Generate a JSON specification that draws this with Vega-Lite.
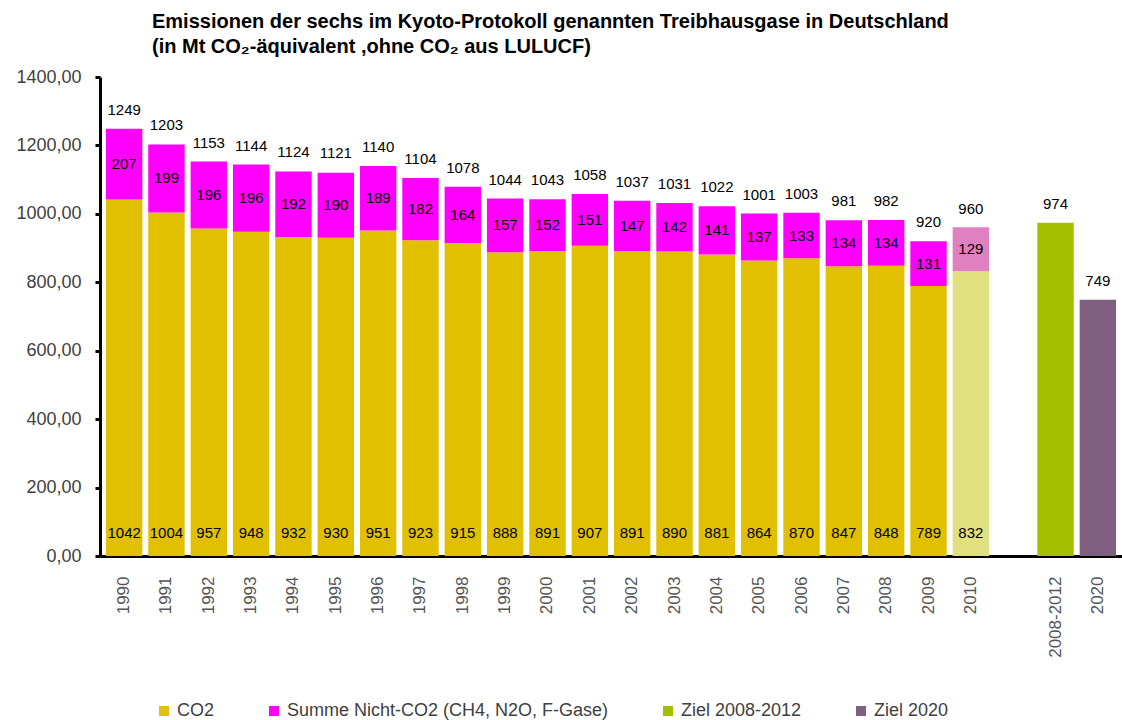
{
  "$schema": "https://vega.github.io/schema/vega-lite/v6.json",
  "width": 1022,
  "height": 479,
  "autosize": {"type": "none"},
  "padding": {"left": 100, "top": 77, "right": 0, "bottom": 164},
  "background": "white",
  "config": {"view": {"stroke": null}, "font": "Liberation Sans"},
  "title": {
    "text": ["Emissionen der sechs im Kyoto-Protokoll genannten Treibhausgase in Deutschland", "(in Mt CO₂-äquivalent ,ohne CO₂ aus LULUCF)"],
    "anchor": "start",
    "frame": "group",
    "dx": 52,
    "offset": 11,
    "fontSize": 20,
    "fontWeight": "bold",
    "color": "black",
    "lineHeight": 25
  },
  "datasets": {
    "segmente": [
      {"jahr": "1990", "gas": "CO2", "wert": 1042}, {"jahr": "1990", "gas": "Summe Nicht-CO2 (CH4, N2O, F-Gase)", "wert": 207},
      {"jahr": "1991", "gas": "CO2", "wert": 1004}, {"jahr": "1991", "gas": "Summe Nicht-CO2 (CH4, N2O, F-Gase)", "wert": 199},
      {"jahr": "1992", "gas": "CO2", "wert": 957}, {"jahr": "1992", "gas": "Summe Nicht-CO2 (CH4, N2O, F-Gase)", "wert": 196},
      {"jahr": "1993", "gas": "CO2", "wert": 948}, {"jahr": "1993", "gas": "Summe Nicht-CO2 (CH4, N2O, F-Gase)", "wert": 196},
      {"jahr": "1994", "gas": "CO2", "wert": 932}, {"jahr": "1994", "gas": "Summe Nicht-CO2 (CH4, N2O, F-Gase)", "wert": 192},
      {"jahr": "1995", "gas": "CO2", "wert": 930}, {"jahr": "1995", "gas": "Summe Nicht-CO2 (CH4, N2O, F-Gase)", "wert": 190},
      {"jahr": "1996", "gas": "CO2", "wert": 951}, {"jahr": "1996", "gas": "Summe Nicht-CO2 (CH4, N2O, F-Gase)", "wert": 189},
      {"jahr": "1997", "gas": "CO2", "wert": 923}, {"jahr": "1997", "gas": "Summe Nicht-CO2 (CH4, N2O, F-Gase)", "wert": 182},
      {"jahr": "1998", "gas": "CO2", "wert": 915}, {"jahr": "1998", "gas": "Summe Nicht-CO2 (CH4, N2O, F-Gase)", "wert": 164},
      {"jahr": "1999", "gas": "CO2", "wert": 888}, {"jahr": "1999", "gas": "Summe Nicht-CO2 (CH4, N2O, F-Gase)", "wert": 157},
      {"jahr": "2000", "gas": "CO2", "wert": 891}, {"jahr": "2000", "gas": "Summe Nicht-CO2 (CH4, N2O, F-Gase)", "wert": 152},
      {"jahr": "2001", "gas": "CO2", "wert": 907}, {"jahr": "2001", "gas": "Summe Nicht-CO2 (CH4, N2O, F-Gase)", "wert": 151},
      {"jahr": "2002", "gas": "CO2", "wert": 891}, {"jahr": "2002", "gas": "Summe Nicht-CO2 (CH4, N2O, F-Gase)", "wert": 147},
      {"jahr": "2003", "gas": "CO2", "wert": 890}, {"jahr": "2003", "gas": "Summe Nicht-CO2 (CH4, N2O, F-Gase)", "wert": 142},
      {"jahr": "2004", "gas": "CO2", "wert": 881}, {"jahr": "2004", "gas": "Summe Nicht-CO2 (CH4, N2O, F-Gase)", "wert": 141},
      {"jahr": "2005", "gas": "CO2", "wert": 864}, {"jahr": "2005", "gas": "Summe Nicht-CO2 (CH4, N2O, F-Gase)", "wert": 137},
      {"jahr": "2006", "gas": "CO2", "wert": 870}, {"jahr": "2006", "gas": "Summe Nicht-CO2 (CH4, N2O, F-Gase)", "wert": 133},
      {"jahr": "2007", "gas": "CO2", "wert": 847}, {"jahr": "2007", "gas": "Summe Nicht-CO2 (CH4, N2O, F-Gase)", "wert": 134},
      {"jahr": "2008", "gas": "CO2", "wert": 848}, {"jahr": "2008", "gas": "Summe Nicht-CO2 (CH4, N2O, F-Gase)", "wert": 134},
      {"jahr": "2009", "gas": "CO2", "wert": 789}, {"jahr": "2009", "gas": "Summe Nicht-CO2 (CH4, N2O, F-Gase)", "wert": 131},
      {"jahr": "2010", "gas": "CO2 2010", "wert": 832}, {"jahr": "2010", "gas": "Nicht-CO2 2010", "wert": 129},
      {"jahr": "2008-2012", "gas": "Ziel 2008-2012", "wert": 974},
      {"jahr": "2020", "gas": "Ziel 2020", "wert": 749}
    ],
    "gesamt": [
      {"jahr": "1990", "gesamt": 1249}, {"jahr": "1991", "gesamt": 1203}, {"jahr": "1992", "gesamt": 1153},
      {"jahr": "1993", "gesamt": 1144}, {"jahr": "1994", "gesamt": 1124}, {"jahr": "1995", "gesamt": 1121},
      {"jahr": "1996", "gesamt": 1140}, {"jahr": "1997", "gesamt": 1104}, {"jahr": "1998", "gesamt": 1078},
      {"jahr": "1999", "gesamt": 1044}, {"jahr": "2000", "gesamt": 1043}, {"jahr": "2001", "gesamt": 1058},
      {"jahr": "2002", "gesamt": 1037}, {"jahr": "2003", "gesamt": 1031}, {"jahr": "2004", "gesamt": 1022},
      {"jahr": "2005", "gesamt": 1001}, {"jahr": "2006", "gesamt": 1003}, {"jahr": "2007", "gesamt": 981},
      {"jahr": "2008", "gesamt": 982}, {"jahr": "2009", "gesamt": 920}, {"jahr": "2010", "gesamt": 960},
      {"jahr": "2008-2012", "gesamt": 974}, {"jahr": "2020", "gesamt": 749}
    ]
  },
  "encoding": {
    "x": {
      "field": "jahr",
      "type": "nominal",
      "sort": null,
      "scale": {
        "domain": ["1990", "1991", "1992", "1993", "1994", "1995", "1996", "1997", "1998", "1999", "2000", "2001", "2002", "2003", "2004", "2005", "2006", "2007", "2008", "2009", "2010", " ", "2008-2012", "2020"],
        "paddingInner": 0.14,
        "paddingOuter": 0.14
      },
      "axis": {
        "title": null,
        "labelAngle": 270,
        "labelPadding": 20,
        "labelFontSize": 17,
        "labelColor": "#555555",
        "ticks": false,
        "domainColor": "black",
        "domainWidth": 3
      }
    }
  },
  "layer": [
    {
      "data": {"name": "segmente"},
      "mark": {"type": "bar"},
      "encoding": {
        "y": {
          "field": "wert",
          "type": "quantitative",
          "stack": "zero",
          "scale": {"domain": [0, 1400]},
          "axis": {
            "title": null,
            "values": [0, 200, 400, 600, 800, 1000, 1200, 1400],
            "labelExpr": "replace(format(datum.value, '.2f'), '.', ',')",
            "labelFontSize": 18,
            "labelColor": "#404040",
            "labelPadding": 14,
            "grid": false,
            "domainColor": "black",
            "domainWidth": 3,
            "tickColor": "black",
            "tickWidth": 3,
            "tickSize": 5
          }
        },
        "color": {
          "field": "gas",
          "type": "nominal",
          "scale": {
            "domain": ["CO2", "Summe Nicht-CO2 (CH4, N2O, F-Gase)", "Ziel 2008-2012", "Ziel 2020", "CO2 2010", "Nicht-CO2 2010"],
            "range": ["#E0C000", "#FF00FF", "#A3BF00", "#806080", "#E0E080", "#E080C0"]
          },
          "legend": {
            "title": null,
            "values": ["CO2", "Summe Nicht-CO2 (CH4, N2O, F-Gase)", "Ziel 2008-2012", "Ziel 2020"],
            "orient": "none",
            "direction": "horizontal",
            "legendX": 55,
            "legendY": 625,
            "symbolType": "square",
            "symbolSize": 100,
            "symbolStrokeWidth": 0,
            "labelFontSize": 18,
            "labelLimit": 0,
            "labelColor": "#404040",
            "labelOffset": 4,
            "columnPadding": 50
          }
        },
        "order": {"field": "gas", "sort": "ascending"}
      }
    },
    {
      "data": {"name": "gesamt"},
      "mark": {"type": "text", "fontSize": 15, "color": "black", "baseline": "alphabetic", "dy": -14},
      "encoding": {
        "y": {"field": "gesamt", "type": "quantitative"},
        "text": {"field": "gesamt", "type": "quantitative"}
      }
    },
    {
      "data": {"name": "segmente"},
      "mark": {"type": "text", "fontSize": 15, "color": "black", "baseline": "middle", "dy": {"expr": "scale('y', 0) - scale('y', datum.wert / 2)"}},
      "encoding": {
        "y": {"field": "wert", "type": "quantitative", "stack": "zero"},
        "order": {"field": "gas", "sort": "ascending"},
        "text": {
          "condition": {"test": "datum.gas == 'Summe Nicht-CO2 (CH4, N2O, F-Gase)' || datum.gas == 'Nicht-CO2 2010'", "field": "wert", "type": "quantitative"},
          "value": ""
        }
      }
    },
    {
      "data": {"name": "segmente"},
      "transform": [{"filter": "datum.gas == 'CO2' || datum.gas == 'CO2 2010'"}],
      "mark": {"type": "text", "fontSize": 15, "color": "black", "baseline": "middle", "dy": -23},
      "encoding": {
        "y": {"datum": 0, "type": "quantitative"},
        "text": {"field": "wert", "type": "quantitative"}
      }
    }
  ]
}
